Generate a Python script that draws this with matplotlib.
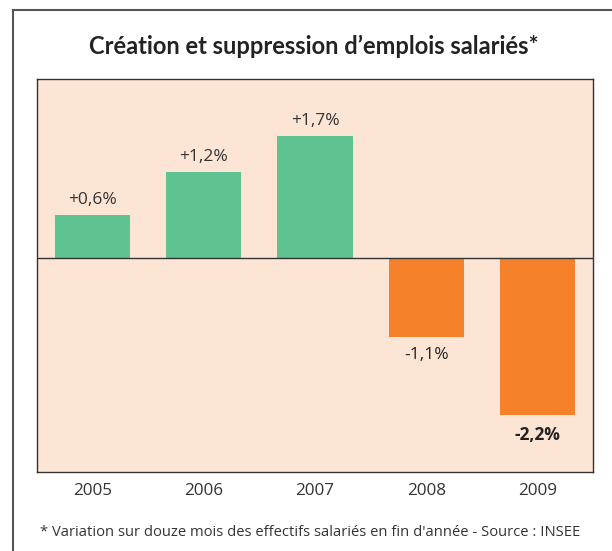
import matplotlib
matplotlib.use("Agg")
import matplotlib.pyplot as plt
from matplotlib.lines import Line2D

years = ["2005", "2006", "2007", "2008", "2009"]
values = [0.6, 1.2, 1.7, -1.1, -2.2]
labels = ["+0,6%", "+1,2%", "+1,7%", "-1,1%", "-2,2%"]
bold_label = [False, False, False, False, True]

W, H = 612, 551
fig = plt.figure(figsize=(W / 100, H / 100), dpi=100)
fig.patch.set_facecolor("white")

# axes position from pixel coords
l, t, r, b = 37, 79, 593, 472
ax = fig.add_axes([l / W, 1 - b / H, (r - l) / W, (b - t) / H])
ax.set_facecolor("#FDE5D5")

green = "#5EC291"
orange = "#F5822A"
colors = [green if v >= 0 else orange for v in values]
x = list(range(len(years)))
ax.bar(x, values, width=0.675, color=colors, zorder=2)
ax.axhline(0, color="#333333", lw=1.0, zorder=3)
ax.set_xlim(-0.5, 4.5)
ax.set_ylim(-2.99, 2.5)

fam = ["Open Sans", "DejaVu Sans"]
for xi, v, lab, bd in zip(x, values, labels, bold_label):
    if v >= 0:
        ax.text(xi, v + 0.1, lab, ha="center", va="bottom", fontsize=12.5,
                family=fam, color="#333333")
    else:
        ax.text(xi, v - 0.15, lab, ha="center", va="top", fontsize=12.5,
                family=fam, color="#222222",
                fontweight="bold" if bd else "normal")

ax.set_xticks(x)
ax.set_xticklabels(years, fontsize=12.3, family=fam, color="#333333")
ax.tick_params(axis="x", length=0, pad=8)
ax.set_yticks([])
for s in ax.spines.values():
    s.set_color("#333333")
    s.set_linewidth(1.0)

fig.text(314 / W, 1 - 46 / H, "Création et suppression d\u2019emplois salariés*",
         ha="center", va="center", fontsize=17, fontweight="bold",
         family=["Lato", "DejaVu Sans"], color="#222222")

fig.text(40 / W, 1 - 533 / H,
         "* Variation sur douze mois des effectifs salariés en fin d'année - Source : INSEE",
         ha="left", va="center", fontsize=10.6, family=fam, color="#333333")

# outer frame (left and top)
fig.add_artist(Line2D([13 / W, 13 / W], [0, 1 - 10 / H], transform=fig.transFigure,
                      color="#555555", lw=1.5))
fig.add_artist(Line2D([13 / W, 1], [1 - 10 / H, 1 - 10 / H], transform=fig.transFigure,
                      color="#555555", lw=1.5))

fig.savefig("out.png", dpi=100)
